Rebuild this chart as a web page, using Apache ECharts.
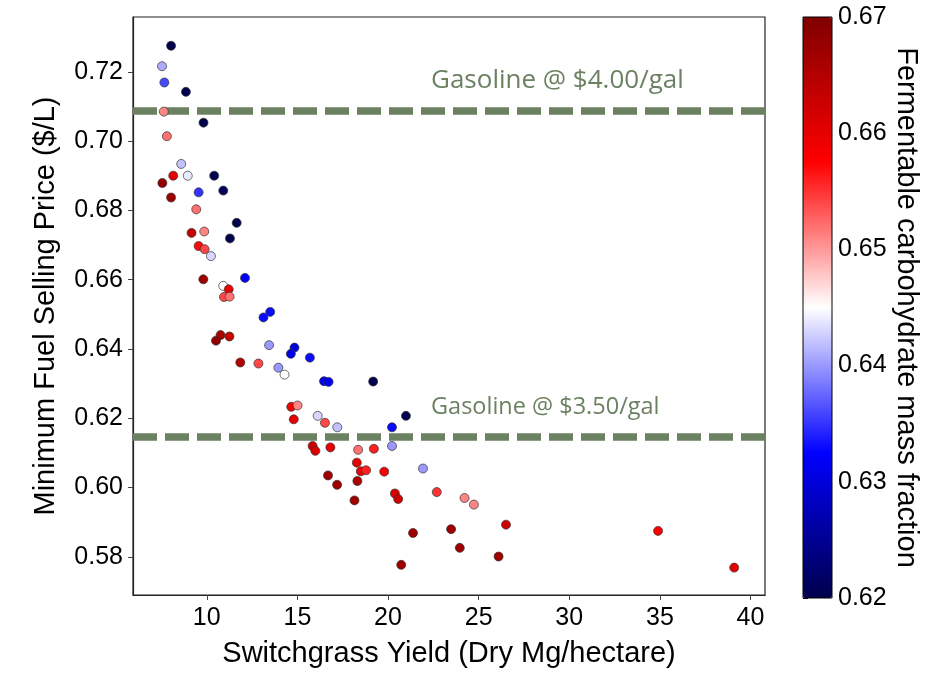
<!DOCTYPE html>
<html>
<head>
<meta charset="utf-8">
<title>MFSP vs switchgrass yield</title>
<script src="https://cdn.jsdelivr.net/npm/echarts@6/dist/echarts.min.js"></script>
<style>
	html, body { margin: 0; padding: 0; background: #fff; }
	#scatterChart { width: 933px; height: 673px; }
</style>
</head>
<body>
<div id="scatterChart"></div>
<script>
	// switchgrass yield (Dry Mg/hectare)
	var yieldVals = [
		8.03, 7.53, 7.66, 8.85, 7.63, 9.82, 7.80, 8.59, 8.15, 8.95,
		10.41, 7.55, 9.55, 10.91, 8.03, 9.42, 11.65, 9.16, 9.86, 11.28,
		9.55, 9.88, 10.23, 9.81, 12.11, 10.91, 11.21, 10.95, 11.26, 13.50,
		13.13, 10.76, 10.51, 11.25, 13.44, 14.84, 14.64, 15.69, 11.85, 12.85,
		13.95, 14.29, 16.47, 16.72, 19.18, 14.66, 15.01, 14.80, 16.12, 16.52,
		17.20, 20.99, 20.22, 20.22, 15.84, 15.99, 16.82, 18.35, 19.22, 18.28,
		18.50, 18.79, 19.79, 16.69, 17.19, 18.31, 18.15, 20.38, 20.56, 21.93,
		22.69, 24.22, 24.74, 21.38, 23.48, 23.96, 20.73, 26.10, 26.51, 34.90,
		39.10
	];
	// minimum fuel selling price ($/L)
	var mfspVals = [
		0.7275, 0.7216, 0.7169, 0.7142, 0.7085, 0.7053, 0.7014, 0.6934, 0.6900, 0.6900,
		0.6900, 0.6879, 0.6852, 0.6857, 0.6837, 0.6803, 0.6764, 0.6735, 0.6739, 0.6719,
		0.6697, 0.6688, 0.6668, 0.6601, 0.6605, 0.6582, 0.6572, 0.6550, 0.6551, 0.6507,
		0.6491, 0.6440, 0.6424, 0.6436, 0.6411, 0.6404, 0.6386, 0.6375, 0.6361, 0.6358,
		0.6346, 0.6326, 0.6307, 0.6305, 0.6306, 0.6233, 0.6237, 0.6197, 0.6207, 0.6187,
		0.6174, 0.6207, 0.6174, 0.6120, 0.6120, 0.6106, 0.6116, 0.6109, 0.6112, 0.6072,
		0.6047, 0.6050, 0.6046, 0.6035, 0.6008, 0.6019, 0.5963, 0.5983, 0.5967, 0.6055,
		0.5987, 0.5970, 0.5951, 0.5869, 0.5880, 0.5826, 0.5777, 0.5801, 0.5893, 0.5875,
		0.5769
	];
	// fermentable carbohydrate mass fraction
	var fractionVals = [
		0.620, 0.641, 0.636, 0.620, 0.651, 0.620, 0.652, 0.642, 0.660, 0.644,
		0.620, 0.668, 0.635, 0.621, 0.667, 0.652, 0.620, 0.663, 0.651, 0.620,
		0.657, 0.654, 0.643, 0.667, 0.632, 0.645, 0.659, 0.654, 0.652, 0.633,
		0.633, 0.666, 0.668, 0.663, 0.640, 0.630, 0.631, 0.633, 0.665, 0.654,
		0.640, 0.645, 0.632, 0.632, 0.620, 0.659, 0.651, 0.660, 0.643, 0.654,
		0.642, 0.620, 0.633, 0.640, 0.662, 0.661, 0.660, 0.652, 0.656, 0.660,
		0.659, 0.656, 0.658, 0.667, 0.667, 0.666, 0.667, 0.661, 0.662, 0.640,
		0.655, 0.651, 0.651, 0.667, 0.667, 0.667, 0.667, 0.667, 0.662, 0.658,
		0.660
	];

	// gasoline reference prices
	var gasolineMfsp = [0.7088, 0.6148];
	var gasolineLabels = ['Gasoline @ $4.00/gal', 'Gasoline @ $3.50/gal'];

	var xTicks = [10, 15, 20, 25, 30, 35, 40];
	var yTicks = [0.58, 0.60, 0.62, 0.64, 0.66, 0.68, 0.70, 0.72];

	// matplotlib "seismic"
	var seismic = ['#00004c', '#0000ff', '#ffffff', '#ff0000', '#800000'];
	var green = '#6b8162';
	var font = 'Liberation Sans, Arial, sans-serif';

	var points = yieldVals.map(function (x, i) {
		return [x, mfspVals[i], fractionVals[i]];
	});

	var chart = echarts.init(document.getElementById('scatterChart'));
	var option = {
		animation: false,
		textStyle: { fontFamily: font },
		grid: [{
			left: 133, right: 168, top: 17, bottom: 75,
			show: true, borderColor: '#222', borderWidth: 1.2, backgroundColor: 'transparent'
		}, {
			left: 803, top: 17, width: 29, height: 581, z: 10,
			show: true, borderColor: '#000', borderWidth: 1, backgroundColor: 'transparent'
		}],
		xAxis: [{
			type: 'value', min: 5.93, max: 40.8,
			name: 'Switchgrass Yield (Dry Mg/hectare)',
			nameLocation: 'middle', nameGap: 44,
			nameTextStyle: { fontSize: 29, color: '#000', fontFamily: font },
			axisLine: { show: true, lineStyle: { color: '#222', width: 1.2 } },
			axisTick: { show: true, length: 5, customValues: xTicks, lineStyle: { color: '#444' } },
			axisLabel: { customValues: xTicks, fontSize: 25, color: '#000', margin: 11 },
			splitLine: { show: false }
		}, {
			gridIndex: 1, type: 'value', min: 0, max: 1, show: false
		}],
		yAxis: [{
			type: 'value', min: 0.569, max: 0.7358,
			name: 'Minimum Fuel Selling Price ($/L)',
			nameLocation: 'middle', nameGap: 73, nameRotate: 90,
			nameTextStyle: { fontSize: 29, color: '#000', fontFamily: font },
			axisLine: { show: true, lineStyle: { color: '#222', width: 1.2 } },
			axisTick: { show: true, length: 5, customValues: yTicks, lineStyle: { color: '#444' } },
			axisLabel: {
				customValues: yTicks, fontSize: 25, color: '#000', margin: 10,
				formatter: function (v) { return v.toFixed(2); }
			},
			splitLine: { show: false }
		}, {
			gridIndex: 1, type: 'value', position: 'right',
			min: 0.62, max: 0.67, interval: 0.01,
			name: 'Fermentable carbohydrate mass fraction',
			nameLocation: 'middle', nameGap: 59, nameRotate: -90,
			nameTextStyle: { fontSize: 29, color: '#000', fontFamily: font },
			axisLine: { show: false },
			axisTick: { show: true, length: 5, lineStyle: { color: '#000' } },
			axisLabel: {
				fontSize: 25, color: '#000', margin: 6,
				formatter: function (v) { return v.toFixed(2); }
			},
			splitLine: { show: false }
		}],
		visualMap: {
			type: 'continuous', min: 0.62, max: 0.67, dimension: 2, seriesIndex: 0,
			orient: 'vertical', left: 803, top: 17, padding: 0,
			itemWidth: 29, itemHeight: 581, calculable: false, hoverLink: false,
			text: null, showLabel: false,
			inRange: { color: seismic }
		},
		series: [{
			type: 'scatter',
			data: points,
			symbol: 'circle',
			symbolSize: 9,
			itemStyle: { borderColor: '#333', borderWidth: 0.7, opacity: 1 },
			z: 3,
			markLine: {
				silent: true,
				symbol: 'none',
				precision: 4,
				label: { show: false },
				lineStyle: { color: green, width: 7.5, type: [24, 8], opacity: 1 },
				data: gasolineMfsp.map(function (v) { return { yAxis: v }; }),
				z: 2
			}
		}, {
			type: 'scatter', xAxisIndex: 1, yAxisIndex: 1, data: []
		}],
		graphic: [{
			type: 'text', left: 431, top: 68,
			style: { text: gasolineLabels[0], fill: green, font: '26px "Open Sans", sans-serif' }
		}, {
			type: 'text', left: 431, top: 395,
			style: { text: gasolineLabels[1], fill: green, font: '23.5px "Open Sans", sans-serif' }
		}]
	};
	chart.setOption(option);
</script>
</body>
</html>
